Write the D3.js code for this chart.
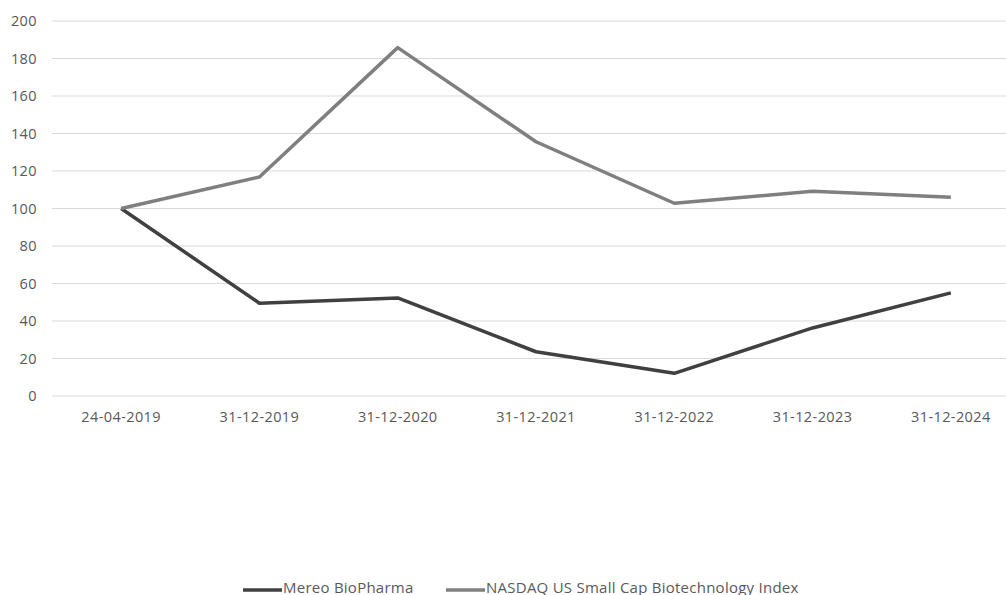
<!DOCTYPE html>
<html><head><meta charset="utf-8">
<script src="https://cdn.jsdelivr.net/npm/d3@7"></script>
<style>body{margin:0;background:#fff;}svg{display:block;font-family:"Open Sans","Liberation Sans",sans-serif;}</style>
</head><body><svg id="c" width="1006" height="595"></svg>
<script>
const categories = ["24-04-2019","31-12-2019","31-12-2020","31-12-2021","31-12-2022","31-12-2023","31-12-2024"];
const mereo = [100, 49.5, 52.3, 23.6, 12.1, 36.3, 55];
const nasdaq = [100, 116.8, 185.8, 135.6, 102.8, 109.2, 106];
const yTicks = [0,20,40,60,80,100,120,140,160,180,200];
const seriesNames = ["Mereo BioPharma","NASDAQ US Small Cap Biotechnology Index"];
const seriesColors = ["#404040","#7f7f7f"];

const svg = d3.select("#c");
const x = d3.scaleBand().domain(categories).range([52, 1020]);
const y = d3.scaleLinear().domain([0,200]).range([396, 21]);

svg.append("g").selectAll("line").data(yTicks).join("line")
  .attr("x1",52).attr("x2",1006).attr("y1",d=>y(d)).attr("y2",d=>y(d))
  .attr("stroke","#d9d9d9").attr("stroke-width",1);

svg.append("g").selectAll("text").data(yTicks).join("text")
  .attr("x",37).attr("y",d=>y(d)).attr("dy","0.35em").attr("text-anchor","end")
  .attr("font-size",14.5).attr("letter-spacing",0.4).attr("fill","#595959").text(d=>d);

svg.append("g").selectAll("text").data(categories).join("text")
  .attr("x",d=>x(d)+x.bandwidth()/2).attr("y",417).attr("dy","0.35em").attr("text-anchor","middle")
  .attr("font-size",14.5).attr("letter-spacing",0.4).attr("fill","#595959").text(d=>d);

const line = d3.line().x((d,i)=>x(categories[i])+x.bandwidth()/2).y(d=>y(d));
[mereo, nasdaq].forEach((s,i)=>{
  svg.append("path").datum(s).attr("d",line).attr("fill","none")
    .attr("stroke",seriesColors[i]).attr("stroke-width",3.5).attr("stroke-linejoin","round");
});

const legendX = [243, 446];
seriesNames.forEach((n,i)=>{
  const g = svg.append("g").attr("transform",`translate(${legendX[i]},0)`);
  g.append("line").attr("x1",0).attr("x2",39).attr("y1",590).attr("y2",590)
    .attr("stroke",seriesColors[i]).attr("stroke-width",3.5);
  g.append("text").attr("x",40).attr("y",593).attr("font-size",15).attr("letter-spacing",0.25)
    .attr("fill","#595959").text(n);
});
</script></body></html>
